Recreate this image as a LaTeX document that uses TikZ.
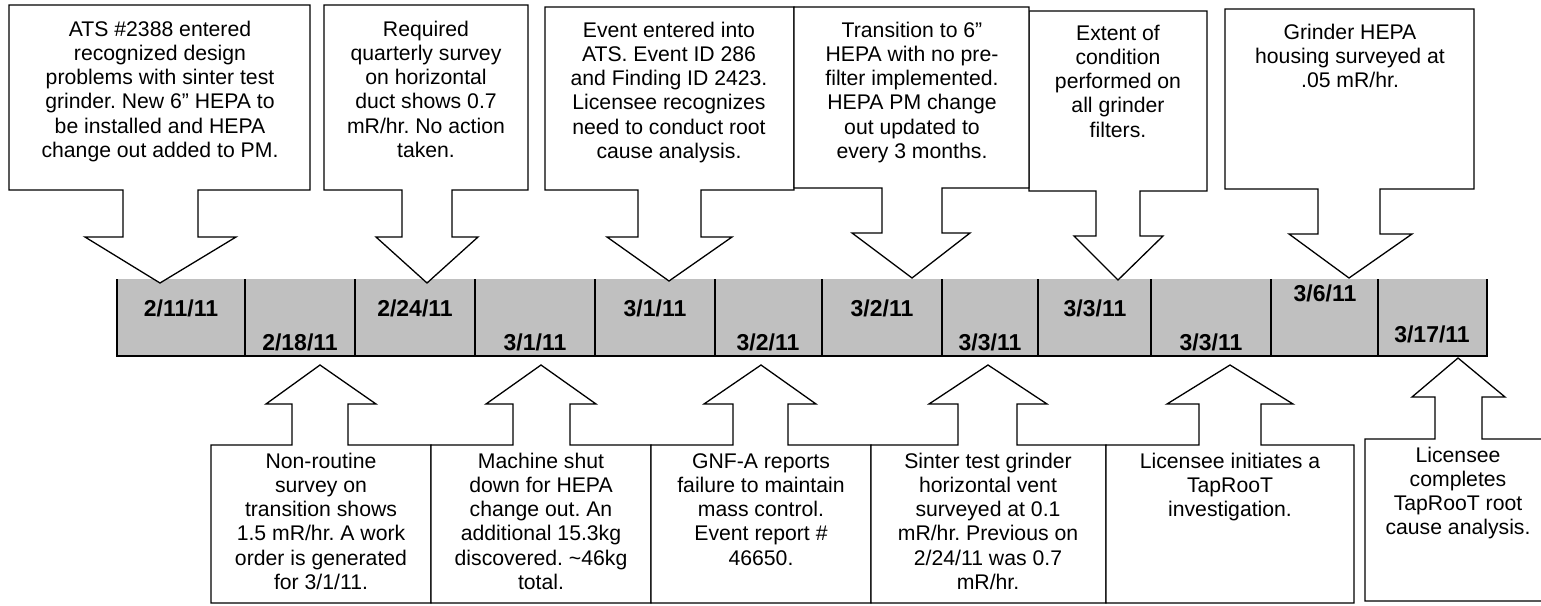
\documentclass[tikz,border=0pt]{standalone}
\usepackage{fontspec}
\setmainfont{Liberation Sans}
\frenchspacing
\begin{document}
\begin{tikzpicture}[x=1pt,y=-1pt,
  callout/.style={draw=black,line width=1.3pt,fill=white,line join=miter},
  txt/.style={inner sep=0pt,align=center,anchor=base,font=\fontsize{21.2}{24.3}\selectfont\frenchspacing},
  datelbl/.style={inner sep=0pt,anchor=base,font=\fontsize{23}{27}\selectfont\bfseries},
  sep/.style={draw=black,line width=1.8pt}]
\useasboundingbox (0,0) rectangle (1541,605);
% timeline bar
\fill[fill={rgb,255:red,192;green,192;blue,192}] (117,279) rectangle (1487,356);
\foreach \xx in {117,245,355,475,595,715,822,942,1038,1151,1271,1378,1487}
  \draw[sep] (\xx,279) -- (\xx,356);
\draw[sep,line cap=rect] (117,356) -- (1487,356);
% date labels
\node[datelbl] (d1) at (181,316) {2/11/11};
\node[datelbl] (d2) at (300,350) {2/18/11};
\node[datelbl] (d3) at (415,316) {2/24/11};
\node[datelbl] (d4) at (535,350) {3/1/11};
\node[datelbl] (d5) at (655,316) {3/1/11};
\node[datelbl] (d6) at (768,350) {3/2/11};
\node[datelbl] (d7) at (882,316) {3/2/11};
\node[datelbl] (d8) at (990,350) {3/3/11};
\node[datelbl] (d9) at (1095,316) {3/3/11};
\node[datelbl] (d10) at (1211,350) {3/3/11};
\node[datelbl] (d11) at (1325,301) {3/6/11};
\node[datelbl] (d12) at (1432,342) {3/17/11};
% top callouts
\draw[callout] (9,5) -- (310,5) -- (310,190) -- (198,190) -- (198,237) -- (236,237) -- (160,283) -- (85,237) -- (123,237) -- (123,190) -- (9,190) -- cycle;
\draw[callout] (324,5) -- (528,5) -- (528,190) -- (452,190) -- (452,237) -- (478,237) -- (427,283) -- (376,237) -- (402,237) -- (402,190) -- (324,190) -- cycle;
\draw[callout] (545,7) -- (794,7) -- (794,190) -- (701,190) -- (701,237) -- (732,237) -- (669,281) -- (607,237) -- (638,237) -- (638,190) -- (545,190) -- cycle;
\draw[callout] (1029,11) -- (1207,11) -- (1207,191) -- (1140,191) -- (1140,236) -- (1163,236) -- (1118,280) -- (1074,236) -- (1096,236) -- (1096,191) -- (1029,191) -- cycle;
\draw[callout] (794,7) -- (1029,7) -- (1029,188) -- (942,188) -- (942,233) -- (970,233) -- (912,278) -- (852,233) -- (882,233) -- (882,188) -- (794,188) -- cycle;
\draw[callout] (1225,9) -- (1474,9) -- (1474,189) -- (1380,189) -- (1380,234) -- (1412,234) -- (1349,278) -- (1289,234) -- (1318,234) -- (1318,189) -- (1225,189) -- cycle;
% bottom callouts
\draw[callout] (211,603) -- (211,445) -- (292,445) -- (292,404) -- (266,404) -- (320,365) -- (376,404) -- (348,404) -- (348,445) -- (431,445) -- (431,603) -- cycle;
\draw[callout] (431,603) -- (431,445) -- (513,445) -- (513,404) -- (486,404) -- (541,365) -- (596,404) -- (570,404) -- (570,445) -- (651,445) -- (651,603) -- cycle;
\draw[callout] (651,603) -- (651,445) -- (733,445) -- (733,404) -- (704,404) -- (761,365) -- (816,404) -- (788,404) -- (788,445) -- (871,445) -- (871,603) -- cycle;
\draw[callout] (871,603) -- (871,445) -- (958,445) -- (958,404) -- (929,404) -- (988,365) -- (1047,404) -- (1017,404) -- (1017,445) -- (1106,445) -- (1106,603) -- cycle;
\draw[callout] (1106,603) -- (1106,445) -- (1199,445) -- (1199,404) -- (1167,404) -- (1230,365) -- (1293,404) -- (1261,404) -- (1261,445) -- (1354,445) -- (1354,603) -- cycle;
\draw[callout] (1365,601) -- (1365,439) -- (1435,439) -- (1435,397) -- (1412,397) -- (1458,358) -- (1505,397) -- (1482,397) -- (1482,439) -- (1551,439) -- (1551,601) -- cycle;
% top texts (anchor = baseline of last line)
\node[txt] (t1) at (160,157.5) {ATS \#2388 entered\\recognized design\\problems with sinter test\\grinder. New 6” HEPA to\\be installed and HEPA\\change out added to PM.};
\node[txt] (t2) at (426,157.5) {Required\\quarterly survey\\on horizontal\\duct shows 0.7\\mR/hr. No action\\taken.};
\node[txt] (t3) at (669,158.5) {Event entered into\\ATS. Event ID 286\\and Finding ID 2423.\\Licensee recognizes\\need to conduct root\\cause analysis.};
\node[txt] (t4) at (912,158.5) {Transition to 6”\\HEPA with no pre-\\filter implemented.\\HEPA PM change\\out updated to\\every 3 months.};
\node[txt] (t5) at (1118,137.2) {Extent of\\condition\\performed on\\all grinder\\filters.};
\node[txt] (t6) at (1350,87.6) {Grinder HEPA\\housing surveyed at\\.05 mR/hr.};
% bottom texts
\node[txt] (b1) at (321,589.5) {Non-routine\\survey on\\transition shows\\1.5 mR/hr. A work\\order is generated\\for 3/1/11.};
\node[txt] (b2) at (541,589.5) {Machine shut\\down for HEPA\\change out. An\\additional 15.3kg\\discovered. \textasciitilde46kg\\total.};
\node[txt] (b3) at (761,565.2) {GNF-A reports\\failure to maintain\\mass control.\\Event report \#\\46650.};
\node[txt] (b4) at (988,589.5) {Sinter test grinder\\horizontal vent\\surveyed at 0.1\\mR/hr. Previous on\\2/24/11 was 0.7\\mR/hr.};
\node[txt] (b5) at (1230,516.6) {Licensee initiates a\\TapRooT\\investigation.};
\node[txt] (b6) at (1458,534.9) {Licensee\\completes\\TapRooT root\\cause analysis.};
\end{tikzpicture}
\end{document}
